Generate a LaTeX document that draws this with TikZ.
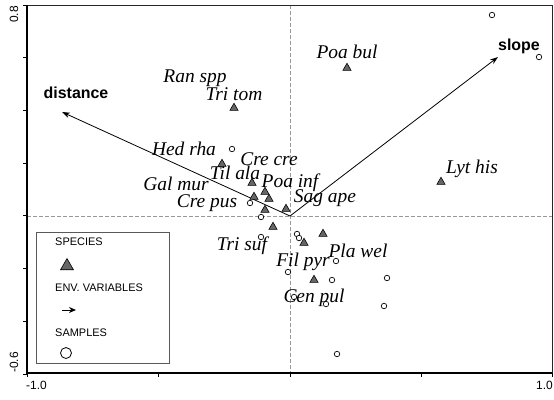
\documentclass[tikz,border=0pt]{standalone}
\usepackage{fontspec}
\setmainfont{Liberation Serif}
\setsansfont{Liberation Sans}
\usetikzlibrary{shapes.geometric,arrows.meta}
\begin{document}
\begin{tikzpicture}[x=1bp,y=-1bp,
  sp/.style={regular polygon,regular polygon sides=3,minimum size=9.5bp,inner sep=0pt,fill=black!60,draw=black,line width=0.6bp},
  smp/.style={circle,draw=black,fill=white,minimum size=5.5bp,inner sep=0pt,line width=0.7bp},
  lab/.style={font=\fontsize{19.5}{20}\selectfont\itshape,inner sep=0pt,text height=0.68em,text depth=0pt},
  envlab/.style={font=\fontsize{16}{17}\selectfont\sffamily\bfseries,inner sep=0pt},
  leglab/.style={font=\fontsize{11}{12}\selectfont\sffamily,inner sep=0pt,anchor=west},
  ticklab/.style={font=\fontsize{12}{13}\selectfont\sffamily,inner sep=0pt},
  envarrow/.style={-{Stealth[length=8bp,width=5.5bp]},line width=0.8bp,black},
  zeroline/.style={draw=black!40,dash pattern=on 4bp off 2bp,line width=0.6bp},
  tick/.style={line width=0.8bp,black}
]
\useasboundingbox (0,0) rectangle (554,399);
% zero lines
\draw[zeroline] (27,216) -- (552,216);
\draw[zeroline] (290,5) -- (290,373);
% frame
\draw[line width=0.8bp,black!85] (27,5) -- (552,5) -- (552,373);
\draw[line width=1.2bp,black] (27,5) -- (27,373) -- (552,373);
% ticks
\foreach \tx in {27,158.5,290,421.5,552} \draw[tick] (\tx,373) -- (\tx,377);
\foreach \ty in {5,57.7,110.4,163.1,215.8,268.5,321.2,373.9} \draw[tick] (27,\ty) -- (23,\ty);
% tick labels
\node[ticklab,rotate=90,anchor=east] (y08) at (14,6) {0.8};
\node[ticklab,rotate=90,anchor=west] (y06) at (14,373) {-0.6};
\node[ticklab,anchor=west] (xm10) at (26,385) {-1.0};
\node[ticklab,anchor=east] (x10) at (553,385) {1.0};
% env variables
\coordinate (o) at (290,216);
\coordinate (dtip) at (62,112);
\coordinate (stip) at (498,57);
\draw[envarrow] (o) -- (dtip);
\draw[envarrow] (o) -- (stip);
\node[envlab] (ldist) at (76,93) {distance};
\node[envlab] (lslope) at (519,46) {slope};
% samples
\foreach \n/\cx/\cy in {s1/492/15,s2/539/57,s3/232/149,s4/250/203,s5/261/217,s6/261/237,s7/297/234,s8/299/238,s9/336/261,s10/288/272,s11/332/280,s12/387/278,s13/294/297,s14/326/304,s15/384/306,s16/337/354}
  \node[smp] (\n) at (\cx,\cy) {};
% species points
\foreach \n/\cx/\cy in {t1/347/68,t2/234/108,t3/222/164,t4/252/183,t5/265/192,t6/254/197,t7/269/199,t8/265/210,t9/286/209,t10/273/227,t11/304/243,t12/323/234,t13/314/280,t14/441/182}
  \node[sp] (\n) at (\cx,\cy) {};
% species labels
\node[lab] (lran) at (195,79) {Ran spp};
\node[lab] (ltri) at (234,97) {Tri tom};
\node[lab] (lpoab) at (347,55) {Poa bul};
\node[lab] (lhed) at (184,152) {Hed rha};
\node[lab] (lcrec) at (269,162) {Cre cre};
\node[lab] (ltil) at (235,176) {Til ala};
\node[lab] (lpoai) at (290,184) {Poa inf};
\node[lab] (lgal) at (176,187) {Gal mur};
\node[lab] (lcrep) at (207,204) {Cre pus};
\node[lab] (lsag) at (325,199) {Sag ape};
\node[lab] (llyt) at (472,170) {Lyt his};
\node[lab] (ltris) at (242,247) {Tri suf};
\node[lab] (lpla) at (358,254) {Pla wel};
\node[lab] (lfil) at (303,263) {Fil pyr};
\node[lab] (lcen) at (314,299) {Cen pul};
% legend
\draw[draw=black!65,line width=0.8bp,fill=white] (36,232) rectangle (169,363);
\node[leglab] (lgsp) at (55,242) {SPECIES};
\node[sp,minimum size=15bp] (lgtri) at (67,266) {};
\node[leglab] (lgenv) at (55,288) {ENV. VARIABLES};
\coordinate (lga) at (62,310);
\coordinate (lgb) at (76,310);
\draw[-{Stealth[length=7bp,width=6bp]},line width=1bp] (lga) -- (lgb);
\node[leglab] (lgsam) at (55,333) {SAMPLES};
\node[smp,minimum size=11bp,line width=0.8bp] (lgc) at (66,353) {};
\end{tikzpicture}
\end{document}
